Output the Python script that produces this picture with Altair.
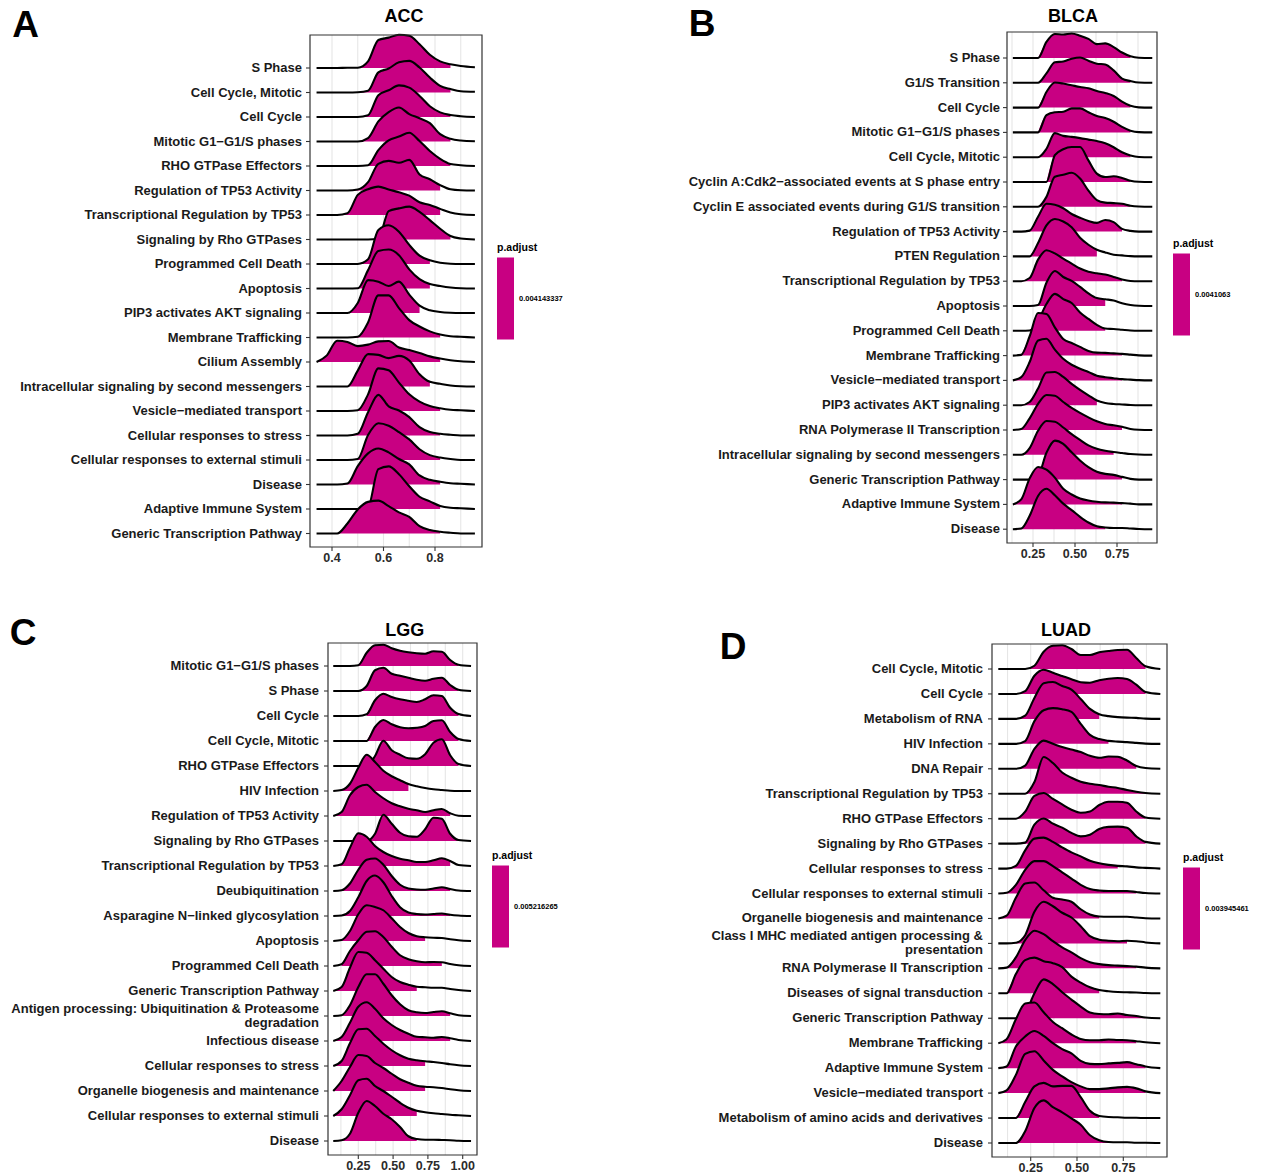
import altair as alt
import pandas as pd

FONT = "Liberation Sans"
MAGENTA = "#C80082"
INK = "#1A1A1A"
GRID = "#E6E6E6"
FRAME = "#333333"

# ---------------- ACC ----------------
acc_terms = [
    "S Phase", "Cell Cycle, Mitotic", "Cell Cycle", "Mitotic G1−G1/S phases",
    "RHO GTPase Effectors", "Regulation of TP53 Activity",
    "Transcriptional Regulation by TP53", "Signaling by Rho GTPases",
    "Programmed Cell Death", "Apoptosis", "PIP3 activates AKT signaling",
    "Membrane Trafficking", "Cilium Assembly",
    "Intracellular signaling by second messengers", "Vesicle−mediated transport",
    "Cellular responses to stress", "Cellular responses to external stimuli",
    "Disease", "Adaptive Immune System", "Generic Transcription Pathway",
]
acc_x = [0.34, 0.38, 0.42, 0.46, 0.50, 0.54, 0.58, 0.62, 0.66, 0.70, 0.74, 0.78,
         0.82, 0.86, 0.90, 0.955]
acc_density = [
    [0, 0, 0, 0.01, 0.01, 0.27, 1.14, 1.24, 1.36, 1.32, 0.97, 0.54, 0.27, 0.15, 0.08, 0.03],
    [0, 0, 0, 0, 0.01, 0.07, 0.82, 0.98, 1.23, 1.29, 1.02, 0.61, 0.27, 0.14, 0.05, 0.03],
    [0, 0, 0, 0, 0, 0.07, 0.89, 1.09, 1.29, 1.2, 0.86, 0.44, 0.19, 0.08, 0.03, 0],
    [0, 0, 0, 0, 0, 0.14, 0.82, 1.2, 1.39, 1.12, 0.95, 0.75, 0.3, 0.11, 0.04, 0.01],
    [0, 0, 0, 0, 0, 0.03, 0.65, 1.05, 1.2, 1.36, 1.02, 0.61, 0.29, 0.08, 0.03, 0],
    [0, 0, 0, 0, 0.04, 0.34, 1.09, 1.21, 1.13, 1.25, 0.65, 0.46, 0.22, 0.05, 0.01, 0],
    [0, 0, 0, 0.07, 0.82, 1.05, 1.16, 1.04, 0.93, 0.79, 0.52, 0.41, 0.25, 0.1, 0.03, 0],
    [0, 0, 0, 0, 0, 0, 0.03, 1.16, 1.27, 1.34, 1.13, 0.79, 0.44, 0.14, 0.04, 0],
    [0, 0, 0, 0, 0, 0.19, 1.39, 1.58, 1.32, 0.78, 0.34, 0.15, 0.05, 0.01, 0, 0],
    [0, 0, 0, 0, 0.01, 0.75, 1.53, 1.59, 1.36, 0.78, 0.38, 0.18, 0.1, 0.04, 0.01, 0],
    [0, 0, 0, 0, 0.41, 1.34, 1.28, 1.1, 1.28, 0.75, 0.3, 0.11, 0.04, 0.01, 0, 0],
    [0, 0, 0, 0, 0.03, 0.61, 1.72, 1.72, 1.2, 0.71, 0.45, 0.25, 0.12, 0.05, 0.03, 0],
    [0, 0.27, 0.87, 0.82, 0.65, 0.71, 0.84, 0.86, 0.59, 0.49, 0.37, 0.23, 0.14, 0.07, 0.03, 0],
    [0, 0, 0, 0, 0.65, 1.32, 1.29, 1.16, 1.25, 1.06, 0.5, 0.19, 0.11, 0.04, 0.01, 0],
    [0, 0, 0, 0, 0.03, 0.68, 1.74, 1.66, 1.16, 0.68, 0.38, 0.2, 0.11, 0.05, 0.03, 0],
    [0, 0, 0, 0, 0.07, 0.95, 1.66, 1.19, 1.02, 0.75, 0.34, 0.14, 0.07, 0.03, 0, 0],
    [0, 0, 0, 0, 0.04, 1.02, 1.5, 1.4, 1.14, 0.84, 0.44, 0.2, 0.1, 0.04, 0, 0],
    [0, 0, 0, 0.04, 0.75, 1.27, 1.47, 1.31, 1.04, 0.82, 0.37, 0.19, 0.11, 0.05, 0.03, 0],
    [0, 0, 0, 0, 0, 0.07, 1.63, 1.74, 1.42, 0.93, 0.5, 0.31, 0.12, 0.05, 0.03, 0],
    [0, 0, 0, 0.41, 0.98, 1.29, 1.34, 1.12, 0.86, 0.68, 0.3, 0.14, 0.07, 0.03, 0, 0],
]
acc_fill = [
    [0.50, 0.86], [0.50, 0.86], [0.50, 0.86], [0.50, 0.86], [0.50, 0.86],
    [0.46, 0.82], [0.42, 0.82], [0.54, 0.86], [0.46, 0.78], [0.46, 0.78],
    [0.42, 0.74], [0.46, 0.82], [0.34, 0.82], [0.42, 0.78], [0.46, 0.82],
    [0.46, 0.82], [0.46, 0.82], [0.42, 0.82], [0.50, 0.82], [0.38, 0.82],
]
acc_padj = 0.004143337

# ---------------- BLCA ----------------
blca_terms = [
    "S Phase", "G1/S Transition", "Cell Cycle", "Mitotic G1−G1/S phases",
    "Cell Cycle, Mitotic", "Cyclin A:Cdk2−associated events at S phase entry",
    "Cyclin E associated events during G1/S transition",
    "Regulation of TP53 Activity", "PTEN Regulation",
    "Transcriptional Regulation by TP53", "Apoptosis", "Programmed Cell Death",
    "Membrane Trafficking", "Vesicle−mediated transport",
    "PIP3 activates AKT signaling", "RNA Polymerase II Transcription",
    "Intracellular signaling by second messengers",
    "Generic Transcription Pathway", "Adaptive Immune System", "Disease",
]
blca_x = [0.13, 0.18, 0.23, 0.28, 0.33, 0.38, 0.43, 0.48, 0.53, 0.58, 0.63, 0.68,
          0.73, 0.78, 0.83, 0.88, 0.96]
blca_density = [
    [0, 0, 0, 0, 0.65, 0.97, 0.95, 0.99, 0.9, 0.77, 0.56, 0.59, 0.44, 0.22, 0.07, 0.01, 0],
    [0, 0, 0, 0, 0.38, 0.83, 0.86, 0.97, 1.02, 0.89, 0.77, 0.74, 0.5, 0.17, 0.07, 0.01, 0],
    [0, 0, 0, 0, 0.63, 1.01, 0.97, 0.9, 0.83, 0.78, 0.67, 0.59, 0.47, 0.24, 0.07, 0.01, 0],
    [0, 0, 0, 0, 0.7, 0.81, 0.83, 0.97, 0.97, 0.81, 0.66, 0.58, 0.43, 0.22, 0.07, 0.01, 0],
    [0, 0, 0, 0, 0.34, 0.97, 0.86, 0.82, 0.77, 0.71, 0.65, 0.56, 0.4, 0.2, 0.07, 0.01, 0],
    [0, 0, 0, 0, 0, 1.08, 1.32, 1.41, 1.41, 0.87, 0.34, 0.2, 0.23, 0.16, 0.05, 0.01, 0],
    [0, 0, 0, 0, 0.4, 1.21, 1.29, 1.37, 1.14, 0.65, 0.27, 0.17, 0.15, 0.12, 0.04, 0.01, 0],
    [0, 0, 0.04, 0.6, 1.12, 1.08, 0.94, 0.71, 0.56, 0.43, 0.35, 0.47, 0.38, 0.11, 0.03, 0, 0],
    [0, 0, 0, 0.54, 1.25, 1.51, 1.41, 1.18, 0.75, 0.47, 0.27, 0.16, 0.07, 0.04, 0.01, 0, 0],
    [0, 0, 0.13, 0.87, 1.25, 1.12, 0.91, 0.71, 0.51, 0.38, 0.32, 0.27, 0.17, 0.07, 0.01, 0, 0],
    [0, 0, 0, 0.04, 0.94, 1.41, 1.17, 1.01, 0.77, 0.51, 0.32, 0.27, 0.22, 0.11, 0.04, 0.01, 0],
    [0, 0, 0.01, 0.4, 1.08, 1.49, 1.28, 1.12, 0.74, 0.48, 0.24, 0.09, 0.07, 0.04, 0.01, 0, 0],
    [0, 0.03, 0.78, 1.72, 1.68, 1.14, 0.67, 0.51, 0.35, 0.19, 0.12, 0.11, 0.09, 0.07, 0.04, 0.01, 0],
    [0, 0.13, 0.74, 1.61, 1.68, 1.24, 0.87, 0.63, 0.47, 0.34, 0.19, 0.13, 0.09, 0.05, 0.03, 0.01, 0],
    [0, 0, 0.13, 0.67, 1.32, 1.34, 1.14, 0.86, 0.62, 0.4, 0.19, 0.09, 0.05, 0.03, 0.01, 0, 0],
    [0, 0.04, 0.47, 1.05, 1.41, 1.38, 1.13, 0.89, 0.69, 0.51, 0.35, 0.24, 0.19, 0.13, 0.04, 0.01, 0],
    [0, 0, 0.27, 0.97, 1.36, 1.33, 1.1, 0.83, 0.6, 0.38, 0.24, 0.16, 0.11, 0.07, 0.03, 0.01, 0],
    [0, 0, 0, 0.13, 1.08, 1.57, 1.44, 1.1, 0.77, 0.5, 0.32, 0.23, 0.19, 0.11, 0.03, 0, 0],
    [0, 0.2, 1.05, 1.51, 1.4, 1.08, 0.63, 0.4, 0.24, 0.16, 0.11, 0.08, 0.07, 0.05, 0.03, 0, 0],
    [0, 0.03, 0.54, 1.34, 1.63, 1.37, 1.03, 0.77, 0.5, 0.27, 0.12, 0.07, 0.05, 0.05, 0.03, 0.01, 0],
]
blca_fill = [
    [0.28, 0.83], [0.28, 0.83], [0.28, 0.83], [0.28, 0.83], [0.28, 0.83],
    [0.33, 0.83], [0.28, 0.83], [0.18, 0.78], [0.23, 0.63], [0.18, 0.78],
    [0.23, 0.68], [0.23, 0.68], [0.18, 0.78], [0.13, 0.78], [0.18, 0.63],
    [0.13, 0.78], [0.18, 0.73], [0.23, 0.78], [0.13, 0.78], [0.13, 0.68],
]
blca_padj = 0.0041063

# ---------------- LGG ----------------
lgg_terms = [
    "Mitotic G1−G1/S phases", "S Phase", "Cell Cycle", "Cell Cycle, Mitotic",
    "RHO GTPase Effectors", "HIV Infection", "Regulation of TP53 Activity",
    "Signaling by Rho GTPases", "Transcriptional Regulation by TP53",
    "Deubiquitination", "Asparagine N−linked glycosylation", "Apoptosis",
    "Programmed Cell Death", "Generic Transcription Pathway",
    "Antigen processing: Ubiquitination & Proteasome\ndegradation",
    "Infectious disease", "Cellular responses to stress",
    "Organelle biogenesis and maintenance",
    "Cellular responses to external stimuli", "Disease",
]
lgg_x = [0.07, 0.13, 0.19, 0.25, 0.31, 0.37, 0.43, 0.49, 0.55, 0.61, 0.67, 0.73,
         0.79, 0.85, 0.91, 0.97, 1.06]
lgg_density = [
    [0, 0, 0, 0.03, 0.53, 0.83, 0.85, 0.71, 0.61, 0.55, 0.51, 0.49, 0.59, 0.57, 0.24, 0.05, 0],
    [0, 0, 0, 0, 0.2, 0.83, 0.93, 0.69, 0.61, 0.53, 0.45, 0.41, 0.49, 0.53, 0.24, 0.05, 0],
    [0, 0, 0, 0, 0.07, 0.63, 0.89, 0.76, 0.67, 0.61, 0.56, 0.67, 0.83, 0.8, 0.33, 0.08, 0],
    [0, 0, 0, 0, 0, 0.56, 0.84, 0.67, 0.55, 0.51, 0.53, 0.6, 0.8, 0.83, 0.36, 0.08, 0],
    [0, 0, 0, 0, 0, 0.4, 1.01, 0.63, 0.45, 0.31, 0.29, 0.47, 0.93, 1.07, 0.43, 0.08, 0],
    [0, 0.04, 0.29, 0.93, 1.45, 1.16, 0.81, 0.59, 0.43, 0.28, 0.19, 0.12, 0.07, 0.04, 0.01, 0, 0],
    [0, 0.16, 0.83, 1.16, 1.25, 0.96, 0.71, 0.51, 0.39, 0.29, 0.23, 0.16, 0.23, 0.28, 0.11, 0.01, 0],
    [0, 0, 0, 0, 0, 0.29, 1.05, 0.69, 0.33, 0.19, 0.17, 0.47, 0.93, 0.89, 0.29, 0.04, 0],
    [0, 0.07, 0.73, 1.31, 1.17, 0.8, 0.56, 0.4, 0.29, 0.23, 0.16, 0.16, 0.23, 0.31, 0.2, 0.04, 0],
    [0, 0.03, 0.3, 0.85, 1.25, 1.3, 1.05, 0.6, 0.25, 0.1, 0.06, 0.05, 0.1, 0.15, 0.08, 0.02, 0],
    [0, 0.02, 0.2, 0.75, 1.4, 1.62, 1.35, 0.8, 0.35, 0.14, 0.08, 0.06, 0.08, 0.1, 0.05, 0.02, 0],
    [0, 0.04, 0.4, 1.07, 1.43, 1.36, 1.23, 0.91, 0.56, 0.32, 0.19, 0.15, 0.13, 0.12, 0.07, 0.03, 0],
    [0, 0.07, 0.6, 1.03, 1.37, 1.39, 1.16, 0.77, 0.43, 0.27, 0.19, 0.15, 0.16, 0.15, 0.08, 0.03, 0],
    [0, 0.16, 0.93, 1.56, 1.53, 1.23, 0.89, 0.56, 0.36, 0.25, 0.17, 0.15, 0.13, 0.13, 0.08, 0.04, 0],
    [0, 0.03, 0.43, 1.16, 1.67, 1.67, 1.29, 0.83, 0.47, 0.23, 0.15, 0.12, 0.16, 0.19, 0.11, 0.03, 0],
    [0, 0.16, 0.73, 1.37, 1.55, 1.29, 0.91, 0.64, 0.44, 0.29, 0.17, 0.15, 0.13, 0.16, 0.11, 0.04, 0],
    [0, 0.2, 0.91, 1.47, 1.49, 1.2, 0.89, 0.63, 0.43, 0.29, 0.23, 0.19, 0.16, 0.12, 0.07, 0.03, 0],
    [0, 0.4, 0.96, 1.44, 1.4, 1.12, 0.92, 0.69, 0.47, 0.33, 0.21, 0.17, 0.15, 0.12, 0.07, 0.03, 0],
    [0, 0.27, 0.83, 1.43, 1.49, 1.2, 1.0, 0.77, 0.53, 0.33, 0.21, 0.15, 0.11, 0.08, 0.05, 0.03, 0],
    [0, 0.03, 0.29, 1.13, 1.6, 1.4, 1.09, 0.87, 0.56, 0.19, 0.08, 0.05, 0.05, 0.04, 0.03, 0.01, 0],
]
lgg_fill = [
    [0.25, 0.97], [0.25, 0.97], [0.31, 0.97], [0.31, 0.97], [0.31, 0.97],
    [0.13, 0.61], [0.07, 0.91], [0.31, 0.97], [0.07, 0.91], [0.13, 0.91],
    [0.13, 0.91], [0.13, 0.73], [0.13, 0.85], [0.07, 0.67], [0.13, 0.91],
    [0.07, 0.91], [0.07, 0.73], [0.07, 0.73], [0.07, 0.67], [0.13, 0.67],
]
lgg_padj = 0.005216265

# ---------------- LUAD ----------------
luad_terms = [
    "Cell Cycle, Mitotic", "Cell Cycle", "Metabolism of RNA", "HIV Infection",
    "DNA Repair", "Transcriptional Regulation by TP53", "RHO GTPase Effectors",
    "Signaling by Rho GTPases", "Cellular responses to stress",
    "Cellular responses to external stimuli",
    "Organelle biogenesis and maintenance",
    "Class I MHC mediated antigen processing &\npresentation",
    "RNA Polymerase II Transcription", "Diseases of signal transduction",
    "Generic Transcription Pathway", "Membrane Trafficking",
    "Adaptive Immune System", "Vesicle−mediated transport",
    "Metabolism of amino acids and derivatives", "Disease",
]
luad_x = [0.075, 0.12, 0.17, 0.22, 0.27, 0.32, 0.37, 0.42, 0.47, 0.52, 0.57, 0.62,
          0.67, 0.72, 0.77, 0.82, 0.87, 0.95]
luad_density = [
    [0, 0, 0, 0, 0.13, 0.69, 0.93, 0.95, 0.8, 0.56, 0.56, 0.67, 0.72, 0.76, 0.77, 0.44, 0.11, 0],
    [0, 0, 0, 0.11, 0.73, 0.97, 0.85, 0.72, 0.59, 0.47, 0.45, 0.55, 0.61, 0.64, 0.6, 0.37, 0.08, 0],
    [0, 0, 0, 0.13, 0.84, 1.43, 1.48, 1.32, 1.17, 0.8, 0.4, 0.19, 0.11, 0.07, 0.05, 0.04, 0.01, 0],
    [0, 0, 0, 0.11, 0.91, 1.35, 1.43, 1.39, 1.28, 0.8, 0.36, 0.19, 0.12, 0.09, 0.07, 0.04, 0.01, 0],
    [0, 0, 0, 0.13, 0.8, 1.13, 1.0, 0.87, 0.77, 0.67, 0.52, 0.44, 0.49, 0.48, 0.33, 0.11, 0.03, 0],
    [0, 0, 0, 0, 0.47, 1.47, 1.23, 0.85, 0.64, 0.48, 0.4, 0.35, 0.28, 0.23, 0.15, 0.08, 0.03, 0],
    [0, 0, 0, 0.28, 0.91, 1.03, 0.79, 0.57, 0.36, 0.24, 0.29, 0.55, 0.68, 0.68, 0.64, 0.29, 0.05, 0],
    [0, 0, 0, 0.04, 0.76, 1.01, 0.8, 0.64, 0.43, 0.29, 0.36, 0.59, 0.67, 0.68, 0.64, 0.29, 0.07, 0],
    [0, 0, 0.11, 0.73, 1.2, 1.24, 1.07, 0.85, 0.65, 0.49, 0.31, 0.21, 0.15, 0.11, 0.09, 0.05, 0.03, 0],
    [0, 0.03, 0.35, 0.95, 1.3, 1.3, 1.1, 0.85, 0.6, 0.35, 0.18, 0.12, 0.1, 0.1, 0.1, 0.06, 0.02, 0],
    [0, 0.11, 0.83, 1.4, 1.44, 1.13, 0.83, 0.76, 0.67, 0.37, 0.16, 0.08, 0.07, 0.07, 0.07, 0.04, 0.01, 0],
    [0, 0, 0.03, 0.33, 1.27, 1.67, 1.49, 1.23, 1.04, 0.69, 0.29, 0.15, 0.11, 0.09, 0.11, 0.09, 0.04, 0],
    [0, 0.03, 0.44, 1.13, 1.51, 1.37, 1.09, 0.84, 0.64, 0.41, 0.25, 0.17, 0.13, 0.11, 0.09, 0.07, 0.03, 0],
    [0, 0, 0.77, 1.33, 1.43, 1.29, 1.21, 1.05, 0.67, 0.43, 0.24, 0.13, 0.08, 0.05, 0.04, 0.03, 0.01, 0],
    [0, 0, 0, 0.2, 1.0, 1.56, 1.37, 1.04, 0.75, 0.47, 0.23, 0.17, 0.16, 0.19, 0.13, 0.09, 0.03, 0],
    [0, 0.16, 0.96, 1.59, 1.63, 1.24, 0.85, 0.6, 0.35, 0.17, 0.12, 0.12, 0.15, 0.13, 0.12, 0.08, 0.04, 0],
    [0, 0.07, 0.87, 1.27, 1.49, 1.29, 1.0, 0.76, 0.59, 0.29, 0.17, 0.16, 0.19, 0.21, 0.24, 0.16, 0.07, 0],
    [0, 0.11, 0.73, 1.57, 1.68, 1.31, 0.93, 0.67, 0.44, 0.27, 0.16, 0.16, 0.19, 0.23, 0.25, 0.19, 0.07, 0],
    [0, 0, 0, 0.64, 1.27, 1.41, 1.27, 1.29, 1.29, 0.84, 0.29, 0.08, 0.04, 0.03, 0.01, 0.01, 0, 0],
    [0, 0, 0, 0.47, 1.4, 1.71, 1.44, 1.23, 0.99, 0.73, 0.31, 0.11, 0.04, 0.03, 0.03, 0.01, 0.01, 0],
]
luad_fill = [
    [0.22, 0.87], [0.17, 0.87], [0.17, 0.62], [0.17, 0.67], [0.17, 0.82],
    [0.22, 0.87], [0.17, 0.87], [0.17, 0.87], [0.12, 0.72], [0.12, 0.82],
    [0.075, 0.62], [0.17, 0.77], [0.12, 0.82], [0.12, 0.62], [0.17, 0.87],
    [0.075, 0.82], [0.075, 0.87], [0.075, 0.87], [0.17, 0.62], [0.17, 0.67],
]
luad_padj = 0.003945461

LABEL_SIZE = 13
LINE_HEIGHT = 14


def ridge_table(xs, density, fills, padj):
    """Long table: one record per (term, x) with baseline and ridge top."""
    n = len(density)
    recs = []
    for i, (heights, (lo, hi)) in enumerate(zip(density, fills)):
        base = n - 1 - i
        for x, h in zip(xs, heights):
            recs.append({
                "row": i, "x": x, "base": base, "top": base + h,
                "filled": bool(lo - 1e-9 <= x <= hi + 1e-9), "padj": padj,
            })
    return pd.DataFrame(recs)


def panel(p):
    left, right, top, bottom = p["frame"]
    (v1, p1), (v2, p2) = p["xref"]
    k = (p2 - p1) / (v2 - v1)
    x_lo = v1 + (left - p1) / k
    x_hi = v1 + (right - p1) / k
    n = len(p["terms"])
    first, last = p["rows_px"]
    step = (last - first) / (n - 1)
    y_lo = -(bottom - last) / step
    y_hi = (n - 1) + (first - top) / step

    xs = alt.Scale(domain=[x_lo, x_hi], range=[left, right], nice=False, zero=False)
    ys = alt.Scale(domain=[y_lo, y_hi], range=[bottom, top], nice=False, zero=False)

    def X(f):
        return alt.X(f, type="quantitative", scale=xs, axis=None)

    def Y(f):
        return alt.Y(f, type="quantitative", scale=ys, axis=None)

    layers = []

    # vertical grid lines
    grid_df = pd.DataFrame({"g": p["grid"], "y0": y_lo, "y1": y_hi})
    layers.append(
        alt.Chart(grid_df).mark_rule(color=GRID, strokeWidth=1.1)
        .encode(x=X("g"), y=Y("y0"), y2="y1")
    )

    # ridges: each term's fill then its outline, top row first
    df = ridge_table(p["xs"], p["density"], p["fills"], p["padj"])
    padj = p["padj"]
    color = alt.Color(
        "padj:Q",
        scale=alt.Scale(domain=[padj * 0.98, padj * 1.02], range=[MAGENTA, MAGENTA]),
        legend=alt.Legend(
            title="p.adjust", orient="none", direction="vertical", type="gradient",
            legendX=p["legend"][0], legendY=p["legend"][1] - 15,
            gradientLength=82, gradientThickness=17, gradientStrokeWidth=0,
            values=[padj], format=p["padj_fmt"],
            titleFont=FONT, titleFontSize=10.5, titleFontWeight="bold",
            titleColor="black", titlePadding=4,
            labelFont=FONT, labelFontSize=7.5, labelFontWeight="bold",
            labelColor="black", labelOffset=5, padding=0,
        ),
    )
    for i in range(n):
        base = alt.Chart(df)
        layers.append(
            base.transform_filter(f"datum.row == {i} && datum.filled")
            .mark_area(interpolate="monotone")
            .encode(x=X("x"), y=Y("top"), y2="base:Q", color=color)
        )
        layers.append(
            base.transform_filter(f"datum.row == {i}")
            .mark_line(interpolate="monotone", color="black", strokeWidth=2.1)
            .encode(x=X("x"), y=Y("top"))
        )

    # panel border
    frame_df = pd.DataFrame({"x0": [x_lo], "x1": [x_hi], "y0": [y_lo], "y1": [y_hi]})
    layers.append(
        alt.Chart(frame_df).mark_rect(fillOpacity=0, stroke=FRAME, strokeWidth=1.2)
        .encode(x=X("x0"), x2="x1", y=Y("y0"), y2="y1")
    )

    # term labels and their ticks
    lab_df = pd.DataFrame({
        "text": p["terms"], "base": [n - 1 - i for i in range(n)], "xl": x_lo,
        "lines": [t.count("\n") + 1 for t in p["terms"]],
    })
    layers.append(
        alt.Chart(lab_df).mark_rule(color=FRAME, strokeWidth=1.1, xOffset=-4, x2Offset=0)
        .encode(x=X("xl"), x2="xl", y=Y("base"))
    )
    for nlines in sorted(set(lab_df["lines"])):
        layers.append(
            alt.Chart(lab_df).transform_filter(f"datum.lines == {nlines}")
            .mark_text(
                align="right", baseline="middle", dx=-p["gap"],
                dy=-(nlines - 1) * LINE_HEIGHT / 2, font=FONT,
                fontSize=LABEL_SIZE, fontWeight="bold", color=INK,
                lineBreak="\n", lineHeight=LINE_HEIGHT,
            ).encode(x=X("xl"), y=Y("base"), text="text:N")
        )

    # x ticks and tick labels
    tick_df = pd.DataFrame({"v": p["ticks"], "lab": p["tick_labels"], "yl": y_lo})
    layers.append(
        alt.Chart(tick_df).mark_rule(color=FRAME, strokeWidth=1.1, y2Offset=4)
        .encode(x=X("v"), y=Y("yl"), y2="yl")
    )
    layers.append(
        alt.Chart(tick_df).mark_text(
            align="center", baseline="middle", dy=11, font=FONT, fontSize=12.5,
            fontWeight="bold", color="#2B2B2B",
        ).encode(x=X("v"), y=Y("yl"), text="lab:N")
    )

    # cohort title and panel letter
    layers.append(
        alt.Chart(pd.DataFrame({"t": [p["title"]]})).mark_text(
            align="center", baseline="middle", font=FONT, fontSize=18,
            fontWeight="bold", color="black",
        ).encode(text="t:N", x=alt.value(p["title_xy"][0]), y=alt.value(p["title_xy"][1]))
    )
    layers.append(
        alt.Chart(pd.DataFrame({"t": [p["letter"]]})).mark_text(
            align="center", baseline="middle", font=FONT, fontSize=37,
            fontWeight="bold", color="black",
        ).encode(text="t:N", x=alt.value(p["letter_xy"][0]), y=alt.value(p["letter_xy"][1]))
    )

    return alt.layer(*layers).properties(width=p["size"][0], height=p["size"][1])


panels = [
    dict(terms=acc_terms, xs=acc_x, density=acc_density, fills=acc_fill,
         padj=acc_padj, padj_fmt=".9f", size=(640, 592),
         frame=(310, 482, 35, 547), xref=((0.4, 332), (0.8, 435)),
         rows_px=(68, 533.5), grid=[0.4, 0.5, 0.6, 0.7, 0.8, 0.9],
         ticks=[0.4, 0.6, 0.8], tick_labels=["0.4", "0.6", "0.8"],
         title="ACC", title_xy=(404, 16.5), letter="A", letter_xy=(25.5, 25.5),
         legend=(497, 258), gap=8),
    dict(terms=blca_terms, xs=blca_x, density=blca_density, fills=blca_fill,
         padj=blca_padj, padj_fmt=".7f", size=(621, 592),
         frame=(367, 517, 32, 543), xref=((0.25, 393), (0.75, 477)),
         rows_px=(58, 529.2), grid=[0.125, 0.25, 0.375, 0.5, 0.625, 0.75, 0.875],
         ticks=[0.25, 0.5, 0.75], tick_labels=["0.25", "0.50", "0.75"],
         title="BLCA", title_xy=(433, 16.7), letter="B", letter_xy=(62, 25),
         legend=(533, 254), gap=7),
    dict(terms=lgg_terms, xs=lgg_x, density=lgg_density, fills=lgg_fill,
         padj=lgg_padj, padj_fmt=".9f", size=(640, 582),
         frame=(328, 477, 51, 563), xref=((0.25, 358.3), (1.0, 462.7)),
         rows_px=(74, 549),
         grid=[0.125, 0.25, 0.375, 0.5, 0.625, 0.75, 0.875, 1.0],
         ticks=[0.25, 0.5, 0.75, 1.0], tick_labels=["0.25", "0.50", "0.75", "1.00"],
         title="LGG", title_xy=(404.7, 38.8), letter="C", letter_xy=(23, 42),
         legend=(492, 274), gap=9),
    dict(terms=luad_terms, xs=luad_x, density=luad_density, fills=luad_fill,
         padj=luad_padj, padj_fmt=".9f", size=(621, 582),
         frame=(352, 527, 52, 565), xref=((0.25, 390.7), (0.75, 483.3)),
         rows_px=(77, 551), grid=[0.125, 0.25, 0.375, 0.5, 0.625, 0.75, 0.875],
         ticks=[0.25, 0.5, 0.75], tick_labels=["0.25", "0.50", "0.75"],
         title="LUAD", title_xy=(426, 38.8), letter="D", letter_xy=(93, 56),
         legend=(543, 276), gap=9),
]

charts = [panel(p) for p in panels]

top_row = alt.hconcat(charts[0], charts[1], spacing=0).resolve_scale(
    color="independent").resolve_legend(color="independent")
bottom_row = alt.hconcat(charts[2], charts[3], spacing=0).resolve_scale(
    color="independent").resolve_legend(color="independent")

chart = (
    alt.vconcat(top_row, bottom_row, spacing=0)
    .resolve_scale(color="independent")
    .resolve_legend(color="independent")
    .properties(padding=0, background="white")
    .configure_view(stroke=None)
)

chart.save("out.html", embed_options={"renderer": "svg", "actions": False})
